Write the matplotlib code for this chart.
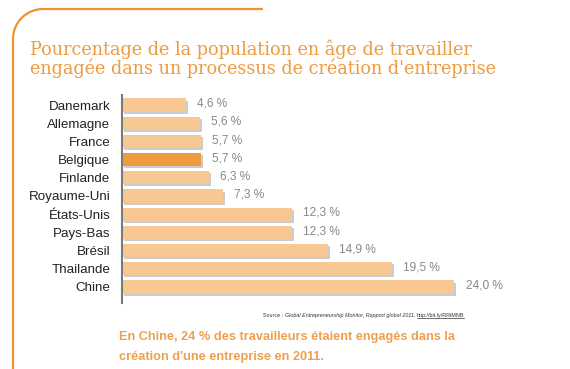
"""Pourcentage de la population engagée dans la création d'entreprise.
"""

import matplotlib
matplotlib.use("Agg")
import matplotlib.pyplot as plt  # type: ignore
import matplotlib.patheffects as pe  # type: ignore
from matplotlib.font_manager import fontManager  # type: ignore

countries = ["Danemark", "Allemagne", "France", "Belgique", "Finlande",
             "Royaume-Uni", "États-Unis", "Pays-Bas", "Brésil", "Thailande",
             "Chine"]
values = [4.6, 5.6, 5.7, 5.7, 6.3, 7.3, 12.3, 12.3, 14.9, 19.5, 24.0]
highlight = "Belgique"

title_lines = ["Pourcentage de la population en âge de travailler",
               "engagée dans un processus de création d'entreprise"]
source_label = "Source : "
source_ref = "Global Entrepreneurship Monitor, Rapport global 2011, "
source_url = "http://bit.ly/RRiMNB"
footer_lines = ["En Chine, 24 % des travailleurs étaient engagés dans la",
                "création d'une entreprise en 2011."]

ORANGE = "#ef9a3f"
BAR = "#f7c892"
BAR_HI = "#ee9a3e"

names = {f.name for f in fontManager.ttflist}
NARROW = "Liberation Sans Narrow" if "Liberation Sans Narrow" in names \
    else "Liberation Sans"
print("narrow font:", NARROW)

W, H = 570, 369
fig = plt.figure(figsize=(W / 100, H / 100), dpi=100)
fig.patch.set_facecolor("white")


def px(x, y):
    """pixel (top-left origin) -> figure fraction"""
    return x / W, 1 - y / H


# frame: top line with rounded corner, then down the left side
frame = fig.add_axes([0, 0, 1, 1])
frame.set_xlim(0, W)
frame.set_ylim(H, 0)
frame.axis("off")
r = 30
frame.plot([263, 13 + r], [9, 9], color="#f0922e", lw=1.6,
           solid_capstyle="butt")
frame.add_patch(matplotlib.patches.Arc((13 + r, 9 + r), 2 * r, 2 * r,
                                       theta1=180, theta2=270,
                                       color="#f0922e", lw=1.6))
frame.plot([13, 13], [9 + r, H], color="#f0922e", lw=1.6,
           solid_capstyle="butt")

for i, line in enumerate(title_lines):
    fig.text(*px(30, 55 + 19 * i), line, color=ORANGE, fontsize=12.7,
             family="DejaVu Serif", ha="left", va="baseline")

# bar chart
ax = fig.add_axes([122 / W, 66 / H, (560 - 122) / W, (303 - 95) / H])
pos = list(range(len(countries)))
colors = [BAR_HI if c == highlight else BAR for c in countries]
bars = ax.barh(pos, values, height=0.72, color=colors, zorder=2)
for b in bars:
    b.set_path_effects([pe.SimplePatchShadow(offset=(1.5, -1.5),
                                             shadow_rgbFace="#9a9a9a",
                                             alpha=0.5),
                        pe.Normal()])
for p, v in zip(pos, values):
    ax.annotate(f"{v:.1f} %".replace(".", ","), (v, p), xytext=(8, 1),
                textcoords="offset points", va="center", ha="left",
                fontsize=8.6, color="#888888", family="Liberation Sans")

ax.set_xlim(0, (560 - 122) / 13.85)
ax.set_ylim(len(countries) - 1 + 0.88, -0.55)
ax.set_yticks(pos)
ax.set_yticklabels(countries, fontsize=9.6, color="#222222",
                   family="Liberation Sans")
ax.tick_params(axis="y", length=0, pad=8.5)
ax.set_xticks([])
for s in ["top", "right", "bottom"]:
    ax.spines[s].set_visible(False)
ax.spines["left"].set_color("#7a7a7a")
ax.spines["left"].set_linewidth(1.5)
ax.patch.set_alpha(0)

# source line, built right to left
fig.canvas.draw()
renderer = fig.canvas.get_renderer()
src_size = 4.6 if NARROW != "Liberation Sans" else 3.9
t_url = fig.text(*px(464, 317), source_url, fontsize=src_size,
                 color="#333333", ha="right", va="baseline", family=NARROW)
bb = t_url.get_window_extent(renderer)
fig.add_artist(matplotlib.lines.Line2D([bb.x0 / W, bb.x1 / W],
                                       [(bb.y0 - 0.3) / H] * 2,
                                       color="#333333", lw=0.5))
t_ref = fig.text(bb.x0 / W, 1 - 317 / H, source_ref, fontsize=src_size,
                 color="#333333", ha="right", va="baseline",
                 style="italic", family=NARROW)
bb2 = t_ref.get_window_extent(renderer)
fig.text(bb2.x0 / W, 1 - 317 / H, source_label, fontsize=src_size,
         color="#333333", ha="right", va="baseline", family=NARROW)

foot_size = 10.8 if NARROW != "Liberation Sans" else 9.2
for i, line in enumerate(footer_lines):
    fig.text(*px(119, 340 + 20 * i), line, color="#f0a04c",
             fontsize=foot_size, fontweight="bold", family=NARROW,
             ha="left", va="baseline")

fig.savefig("out.png", dpi=100)
